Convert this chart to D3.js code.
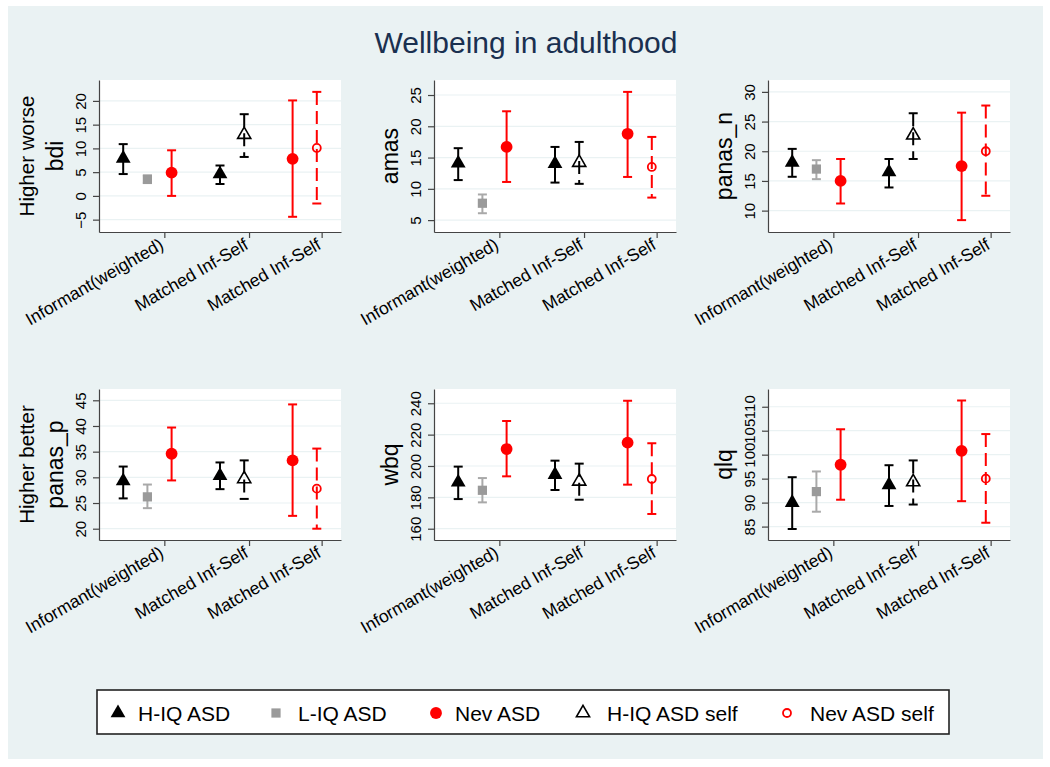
<!DOCTYPE html>
<html>
<head>
<meta charset="utf-8">
<script src="https://cdn.jsdelivr.net/npm/d3@7"></script>
<style>
  html, body { margin: 0; padding: 0; background: #ffffff; }
  svg { display: block; font-family: "Liberation Sans", Arial, Helvetica, sans-serif; }
</style>
</head>
<body>
<svg id="chart" width="1050" height="767"></svg>
<script>
// ---------------- data ----------------
const chartTitle = "Wellbeing in adulthood";
const measures = ["bdi", "amas", "panas_n", "panas_p", "wbq", "qlq"];
const rowTitles = ["Higher worse", "Higher better"];
const groupLabels = ["Informant(weighted)", "Matched Inf-Self", "Matched Inf-Self"];
const groupTickPos = [2.7, 6.2, 9.2];
const seriesNames = ["H-IQ ASD", "L-IQ ASD", "Nev ASD", "H-IQ ASD self", "Nev ASD self"];
const yTickValues = [
  [-5, 0, 5, 10, 15, 20],
  [5, 10, 15, 20, 25],
  [10, 15, 20, 25, 30],
  [20, 25, 30, 35, 40, 45],
  [160, 180, 200, 220, 240],
  [85, 90, 95, 100, 105, 110]
];
const yDomains = [
  [-7.6, 24.4], [3.1, 27.4], [6.4, 32.0],
  [17.8, 47.2], [152.8, 249.1], [82.2, 113.7]
];
// [estimate, lower, upper] for each measure (bdi, amas, panas_n, panas_p, wbq, qlq)
const hiqInformant = [[7.9, 4.6, 10.9], [14.1, 11.4, 16.5], [18.1, 15.7, 20.4], [29.3, 25.9, 32.1], [189.6, 178.9, 199.6], [90.0, 84.5, 95.3]];
const liqInformant = [[3.5, 2.7, 4.3], [7.7, 6.1, 9.1], [17.0, 15.3, 18.5], [26.2, 24.0, 28.6], [184.5, 176.8, 192.3], [92.3, 88.1, 96.5]];
const nevInformant = [[4.9, 0.0, 9.6], [16.7, 11.1, 22.4], [15.0, 11.2, 18.7], [34.6, 29.4, 39.7], [210.8, 193.4, 228.7], [97.9, 90.6, 105.3]];
const hiqMatched   = [[4.6, 2.5, 6.4], [14.0, 11.0, 16.7], [16.5, 13.9, 18.7], [30.3, 27.7, 32.9], [194.5, 184.7, 203.4], [93.7, 89.3, 97.8]];
const hiqSelf      = [[12.9, 8.2, 17.2], [14.2, 10.8, 17.5], [22.7, 18.7, 26.4], [29.7, 25.8, 33.3], [190.2, 178.5, 201.5], [94.3, 89.6, 98.8]];
const nevMatched   = [[7.8, -4.4, 20.1], [18.8, 11.9, 25.5], [17.5, 8.4, 26.5], [33.3, 22.5, 44.2], [214.9, 188.1, 241.6], [100.8, 90.3, 111.3]];
const nevSelf      = [[10.1, -1.6, 21.9], [13.5, 8.6, 18.3], [20.0, 12.5, 27.7], [27.8, 20.0, 35.6], [191.7, 169.4, 214.5], [95.0, 85.8, 104.3]];
// slot (x position) of each estimate, and the series it belongs to
const slotX = [1, 2, 3, 5, 6, 8, 9];
const slotSeries = [0, 1, 2, 0, 3, 2, 4];
const slotValues = [hiqInformant, liqInformant, nevInformant, hiqMatched, hiqSelf, nevMatched, nevSelf];

// ---------------- styles ----------------
const seriesStyle = [
  { sym: d3.symbolTriangle, size: 95, fill: "#000000", stroke: "none", bar: "#000000", dash: null, sw: 0 },
  { sym: d3.symbolSquare,   size: 85, fill: "#9a9a9a", stroke: "none", bar: "#a9a9a9", dash: null, sw: 0 },
  { sym: d3.symbolCircle,   size: 110, fill: "#ff0000", stroke: "none", bar: "#ff0000", dash: null, sw: 0 },
  { sym: d3.symbolTriangle, size: 75, fill: "none", stroke: "#000000", bar: "#000000", dash: "13,6", sw: 1.6 },
  { sym: d3.symbolCircle,   size: 50, fill: "none", stroke: "#ff0000", bar: "#ff0000", dash: "13,6", sw: 1.8 }
];

const svg = d3.select("#chart");
const W = 1050, H = 767;
svg.append("rect").attr("width", W).attr("height", H).attr("fill", "#ffffff");
svg.append("rect").attr("x", 8).attr("y", 6).attr("width", 1035).attr("height", 753).attr("fill", "#eaf2f3");

svg.append("text").attr("x", 526).attr("y", 53).attr("text-anchor", "middle")
  .attr("font-size", 30).attr("fill", "#1a3050").text(chartTitle);

const colLeft = [99, 434, 768];
const rowTop = [80, 389];
const rowH = [152, 151];
const plotW = 242;

measures.forEach((m, i) => {
  const col = i % 3, row = Math.floor(i / 3);
  const w = plotW, h = rowH[row];
  const g = svg.append("g").attr("transform", `translate(${colLeft[col]},${rowTop[row]})`);
  const x = d3.scaleLinear().domain([0, 10]).range([0, w]);
  const y = d3.scaleLinear().domain(yDomains[i]).range([h, 0]);

  g.append("rect").attr("width", w).attr("height", h).attr("fill", "#ffffff");
  g.selectAll("line.grid").data(yTickValues[i]).join("line").attr("class", "grid")
    .attr("x1", 0).attr("x2", w).attr("y1", d => y(d)).attr("y2", d => y(d))
    .attr("stroke", "#eaf2f3").attr("stroke-width", 1.2);

  // y axis
  const ya = g.append("g").call(d3.axisLeft(y).tickValues(yTickValues[i]).tickSize(6).tickSizeOuter(0));
  ya.select(".domain").attr("stroke", "#444").attr("stroke-width", 1.2);
  ya.selectAll(".tick line").attr("stroke", "#444").attr("stroke-width", 1.2);
  ya.selectAll(".tick text").attr("x", 0).attr("y", -13).attr("dy", 0)
    .attr("transform", "rotate(-90)").attr("text-anchor", "middle")
    .attr("font-size", 15).attr("fill", "#000").attr("font-family", null);

  // x axis
  const xa = g.append("g").attr("transform", `translate(0,${h})`)
    .call(d3.axisBottom(x).tickValues(groupTickPos).tickSize(6).tickSizeOuter(0)
      .tickFormat((d, j) => groupLabels[j]));
  xa.select(".domain").attr("stroke", "#444").attr("stroke-width", 1.2);
  xa.selectAll(".tick line").attr("stroke", "#444").attr("stroke-width", 1.2);
  xa.selectAll(".tick text").attr("x", 0).attr("y", 0).attr("dy", 0)
    .attr("transform", "translate(0,16) rotate(-30)").attr("text-anchor", "end")
    .attr("font-size", 17.5).attr("fill", "#000").attr("font-family", null);

  // y titles
  g.append("text").attr("transform", `translate(-36,${h / 2}) rotate(-90)`)
    .attr("text-anchor", "middle").attr("font-size", 23).attr("fill", "#000").text(m);
  if (col === 0) {
    g.append("text").attr("transform", `translate(-65,${h / 2}) rotate(-90)`)
      .attr("text-anchor", "middle").attr("font-size", 20.5).attr("fill", "#000").text(rowTitles[row]);
  }

  // error bars and markers
  slotX.forEach((sx, k) => {
    const st = seriesStyle[slotSeries[k]];
    const [est, lo, hi] = slotValues[k][i];
    const cx = x(sx);
    const bar = g.append("g");
    bar.append("line").attr("x1", cx).attr("x2", cx).attr("y1", y(hi)).attr("y2", y(lo))
      .attr("stroke", st.bar).attr("stroke-width", 2).attr("stroke-dasharray", st.dash);
    [hi, lo].forEach(v => {
      bar.append("line").attr("x1", cx - 4.5).attr("x2", cx + 4.5).attr("y1", y(v)).attr("y2", y(v))
        .attr("stroke", st.bar).attr("stroke-width", 2);
    });
    g.append("path").attr("d", d3.symbol(st.sym, st.size)())
      .attr("transform", `translate(${cx},${y(est)})`)
      .attr("fill", st.fill).attr("stroke", st.stroke).attr("stroke-width", st.sw);
  });
});

// legend
const legendSymX = [118, 276, 436, 583, 787];
const legendTextX = [138, 298, 455, 607, 810];
const lg = svg.append("g");
lg.append("rect").attr("x", 97).attr("y", 690).attr("width", 852).attr("height", 44)
  .attr("fill", "#ffffff").attr("stroke", "#222").attr("stroke-width", 1.6);
seriesNames.forEach((name, k) => {
  const st = seriesStyle[k];
  lg.append("path").attr("d", d3.symbol(st.sym, st.size)())
    .attr("transform", `translate(${legendSymX[k]},713)`)
    .attr("fill", st.fill).attr("stroke", st.stroke).attr("stroke-width", st.sw);
  lg.append("text").attr("x", legendTextX[k]).attr("y", 720.5).attr("font-size", 21)
    .attr("fill", "#000").text(name);
});
</script>
</body>
</html>
